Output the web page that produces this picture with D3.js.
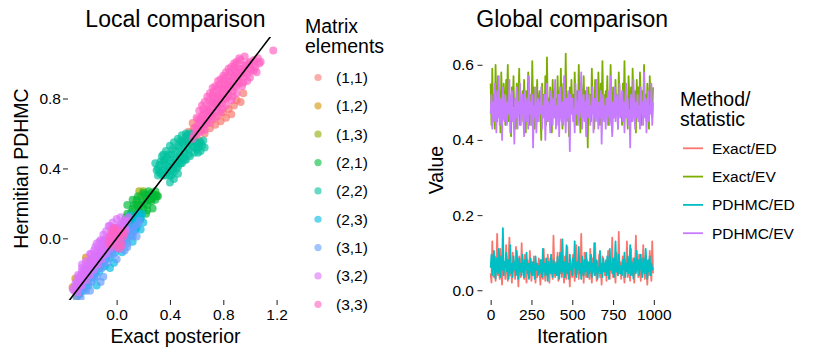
<!DOCTYPE html>
<html>
<head>
<meta charset="utf-8">
<script src="https://cdn.jsdelivr.net/npm/d3@7"></script>
<style>
  body { margin: 0; background: #fff; }
  text { font-family: "Liberation Sans", Arial, Helvetica, sans-serif; fill: #000; }
</style>
</head>
<body>
<svg id="chart" width="830" height="356"></svg>
<script>
// ---- data: local comparison (exact posterior vs hermitian PDHMC) ----
const elementLabels = ["(1,1)", "(1,2)", "(1,3)", "(2,1)", "(2,2)", "(2,3)", "(3,1)", "(3,2)", "(3,3)"];
const elementColors = ["#F8766D", "#D39200", "#93AA00", "#00BA38", "#00C19F", "#00B9E3", "#619CFF", "#DB72FB", "#FF61C3"];

const el11 = [[0.50,0.55],[0.52,0.58],[0.54,0.61],[0.56,0.57],[0.58,0.63],[0.60,0.59],[0.62,0.56],[0.64,0.62],[0.66,0.60],[0.68,0.66],[0.70,0.63],[0.72,0.68],[0.74,0.65],[0.76,0.70],[0.78,0.67],[0.80,0.72],[0.82,0.69],[0.84,0.74],[0.86,0.71],[0.88,0.76],[0.90,0.79],[0.93,0.78],[0.95,0.83],[0.57,0.66],[0.63,0.68],[0.69,0.73],[0.75,0.77],[0.81,0.80]];
const el12 = [[-0.31,-0.30],[-0.33,-0.28],[-0.28,-0.32],[-0.25,-0.22],[-0.20,-0.15],[-0.15,-0.12],[-0.10,-0.06],[-0.05,-0.02],[0.00,0.03],[0.05,0.06],[-0.22,-0.25],[-0.12,-0.16],[-0.31,-0.23],[-0.23,-0.11]];
const el13 = [[0.20,0.27],[0.23,0.25],[0.25,0.22],[0.18,0.24],[0.28,0.24],[0.16,0.20],[0.30,0.25],[-0.30,-0.33],[0.00,0.05],[0.17,0.27]];
const el21 = [[0.06,0.10],[0.08,0.14],[0.10,0.12],[0.12,0.17],[0.14,0.13],[0.15,0.19],[0.17,0.16],[0.19,0.21],[0.20,0.17],[0.22,0.23],[0.23,0.19],[0.25,0.24],[0.26,0.21],[0.28,0.25],[0.29,0.22],[0.30,0.24],[0.12,0.22],[0.16,0.24],[0.20,0.26],[0.24,0.27],[0.10,0.07],[0.18,0.11],[0.27,0.17],[0.08,0.19],[0.22,0.14],[0.14,0.08],
  [0.07,0.12],[0.09,0.10],[0.11,0.15],[0.13,0.11],[0.13,0.19],[0.16,0.15],[0.18,0.19],[0.18,0.14],[0.21,0.20],[0.21,0.25],[0.24,0.22],[0.26,0.26],[0.27,0.23],[0.29,0.27],[0.31,0.24],[0.15,0.22],[0.23,0.16],[0.11,0.09]];
const el22 = [[0.30,0.39],[0.32,0.42],[0.33,0.37],[0.35,0.44],[0.36,0.40],[0.38,0.46],[0.39,0.41],[0.40,0.36],[0.41,0.48],[0.42,0.43],[0.43,0.38],[0.44,0.50],[0.45,0.45],[0.46,0.41],[0.47,0.52],[0.48,0.47],[0.49,0.43],[0.50,0.54],[0.51,0.49],[0.52,0.45],[0.53,0.56],[0.54,0.51],[0.55,0.47],[0.56,0.58],[0.57,0.53],[0.58,0.49],[0.59,0.55],[0.60,0.51],[0.62,0.54],[0.63,0.50],[0.64,0.53],[0.55,0.60],[0.34,0.47],[0.37,0.50],[0.40,0.53],[0.43,0.55],[0.46,0.57],[0.49,0.59],[0.52,0.60],[0.37,0.36],[0.41,0.39],[0.44,0.42],[0.47,0.44],[0.50,0.46],[0.29,0.43],[0.31,0.36],
  [0.31,0.40],[0.33,0.44],[0.34,0.39],[0.36,0.45],[0.37,0.42],[0.38,0.38],[0.39,0.48],[0.40,0.44],[0.42,0.40],[0.42,0.51],[0.44,0.46],[0.45,0.40],[0.46,0.53],[0.47,0.48],[0.48,0.43],[0.49,0.55],[0.50,0.50],[0.51,0.45],[0.52,0.57],[0.53,0.52],[0.54,0.48],[0.55,0.55],[0.57,0.57],[0.58,0.52],[0.60,0.55],[0.61,0.52],[0.63,0.55],[0.41,0.36],[0.35,0.48],[0.32,0.38],
  [0.40,0.32],[0.43,0.34],[0.46,0.37],[0.66,0.52],[0.65,0.56],[0.53,0.59],[0.48,0.56],[0.58,0.60],[0.35,0.36],[0.61,0.49]];
const el23 = [[-0.28,-0.32],[-0.24,-0.28],[-0.20,-0.22],[-0.16,-0.20],[-0.12,-0.14],[-0.08,-0.12],[-0.04,-0.06],[0.00,-0.04],[0.04,0.00],[0.08,0.04],[0.12,0.08],[0.15,0.11],[0.18,0.12],[0.10,0.13],[0.06,0.09],[0.14,0.05],[0.02,0.06],[-0.02,0.00],[-0.06,-0.02],[-0.10,-0.08],[-0.14,-0.10],[-0.18,-0.16],[-0.22,-0.18],[-0.26,-0.24],[-0.30,-0.27],
  [-0.25,-0.30],[-0.21,-0.27],[-0.17,-0.23],[-0.13,-0.19],[-0.09,-0.16],[-0.05,-0.11],[-0.01,-0.08],[0.03,-0.04],[0.07,-0.01],[0.11,0.02],[0.15,0.06],[0.19,0.14],[0.16,0.14],[0.13,0.10],[0.09,0.07],
  [-0.15,-0.27],[-0.05,-0.17],[0.04,-0.08],[0.12,-0.02],[0.18,0.05],[0.20,0.09],[-0.02,-0.14]];
const el31 = [[-0.27,-0.34],[-0.23,-0.30],[-0.19,-0.25],[-0.15,-0.22],[-0.11,-0.17],[-0.07,-0.14],[-0.03,-0.09],[0.01,-0.06],[0.05,-0.02],[0.09,0.01],[0.13,0.04],[0.16,0.08],[0.11,0.06],[0.03,-0.01],[-0.05,-0.07],[-0.13,-0.13],[-0.21,-0.21],[-0.29,-0.30],[-0.17,-0.18],[-0.09,-0.10],[0.07,0.03],[0.17,0.10],
  [-0.26,-0.29],[-0.22,-0.26],[-0.18,-0.22],[-0.14,-0.17],[-0.10,-0.14],[-0.06,-0.10],[-0.02,-0.06],[0.02,-0.03],[0.06,0.01],[0.10,0.04],[0.14,0.07],[-0.30,-0.34],[0.12,0.01],[0.08,-0.03],
  [-0.20,-0.30],[-0.10,-0.22],[0.00,-0.12],[0.08,-0.05],[0.15,0.01],[-0.12,-0.25],[0.06,-0.07]];
const el32 = [[-0.32,-0.30],[-0.30,-0.24],[-0.29,-0.31],[-0.27,-0.21],[-0.26,-0.27],[-0.24,-0.18],[-0.23,-0.24],[-0.21,-0.15],[-0.20,-0.21],[-0.18,-0.12],[-0.17,-0.18],[-0.15,-0.09],[-0.14,-0.15],[-0.12,-0.06],[-0.11,-0.12],[-0.09,-0.03],[-0.08,-0.09],[-0.06,0.00],[-0.05,-0.06],[-0.03,0.03],[-0.02,-0.03],[0.00,0.06],[0.01,0.00],[0.03,0.08],[0.04,0.03],[0.06,0.10],[0.07,0.05],[0.09,0.12],[-0.25,-0.23],[-0.19,-0.16],[-0.13,-0.10],[-0.07,-0.04],[-0.01,0.02],[0.05,0.07],[-0.28,-0.27],[-0.22,-0.20],[-0.16,-0.13],[-0.10,-0.07],[-0.04,-0.01],[0.02,0.04],[-0.31,-0.26],[-0.26,-0.19],[-0.20,-0.13],[-0.14,-0.06],[-0.08,0.00],[-0.20,-0.09],[-0.12,-0.01],[-0.05,0.07],[-0.26,-0.15],
  [-0.33,-0.29],[-0.31,-0.28],[-0.30,-0.29],[-0.29,-0.25],[-0.28,-0.22],[-0.27,-0.25],[-0.25,-0.20],[-0.24,-0.22],[-0.22,-0.17],[-0.21,-0.19],[-0.19,-0.13],[-0.18,-0.15],[-0.16,-0.11],[-0.15,-0.13],[-0.13,-0.07],[-0.12,-0.09],[-0.10,-0.05],[-0.09,-0.07],[-0.07,-0.01],[-0.06,-0.04],[-0.04,0.02],[-0.03,-0.01],[-0.01,0.05],[0.00,0.02],[0.02,0.07],[0.03,0.05],[0.05,0.09],[0.06,0.06],[0.08,0.10],[-0.23,-0.13],[-0.17,-0.07],[-0.11,-0.02],[-0.03,0.06],[-0.29,-0.21],
  [-0.26,-0.17],[-0.23,-0.15],[-0.19,-0.09],[-0.16,-0.05],[-0.13,-0.02],[-0.10,0.02],[-0.08,0.04],[-0.06,0.07],[-0.03,0.09],[0.00,0.11],[0.03,0.12],[-0.17,-0.10],[-0.09,-0.01],[-0.15,-0.03]];
const el33 = [[-0.05,-0.04],[0.00,0.00],[0.04,0.04],[-0.04,0.04],[0.04,-0.04],[0.00,0.05],[0.00,-0.05],[-0.05,0.01],[0.05,0.01],
  [-0.03,-0.02],[0.02,0.02],[-0.02,0.03],[0.03,-0.02],[-0.06,-0.02],[0.06,0.03],[0.02,-0.06],[-0.02,0.06],
  [0.57,0.57],[0.59,0.63],[0.60,0.60],[0.62,0.66],[0.63,0.61],[0.64,0.70],[0.66,0.65],[0.67,0.72],[0.68,0.68],[0.70,0.75],[0.71,0.70],[0.72,0.78],[0.74,0.73],[0.75,0.80],[0.76,0.75],[0.78,0.83],[0.79,0.77],[0.80,0.86],[0.82,0.80],[0.83,0.88],[0.84,0.82],[0.86,0.90],[0.87,0.84],[0.88,0.93],[0.90,0.87],[0.91,0.95],[0.92,0.89],[0.94,0.97],[0.95,0.92],[0.97,0.99],[0.98,0.94],[1.00,1.01],[1.01,0.96],[1.03,1.02],[1.04,0.98],[1.06,1.03],[1.07,1.00],[1.05,0.95],[1.08,1.01],[1.175,1.075],
  [0.61,0.68],[0.65,0.74],[0.69,0.79],[0.73,0.84],[0.77,0.88],[0.81,0.92],[0.85,0.95],[0.89,0.99],[0.93,1.02],[0.70,0.66],[0.78,0.72],[0.86,0.79],[0.94,0.87],[1.00,0.92],[0.74,0.69],[0.82,0.76],[0.90,0.83],[0.98,0.90],
  [0.58,0.59],[0.60,0.64],[0.61,0.62],[0.63,0.68],[0.64,0.64],[0.65,0.71],[0.67,0.67],[0.68,0.74],[0.69,0.70],[0.71,0.77],[0.72,0.72],[0.73,0.80],[0.75,0.76],[0.76,0.82],[0.77,0.78],[0.79,0.85],[0.80,0.80],[0.81,0.88],[0.83,0.83],[0.84,0.90],[0.85,0.86],[0.87,0.92],[0.88,0.87],[0.89,0.95],[0.91,0.90],[0.92,0.97],[0.93,0.93],[0.95,0.99],[0.96,0.95],[0.99,1.00],[1.00,0.97],[1.02,1.00],[0.72,0.82],[0.76,0.86],[0.80,0.90],[0.84,0.93],[0.88,0.97],[0.79,0.74],[0.87,0.81],[0.95,0.89],[1.03,0.96],[0.66,0.62],
  [0.62,0.73],[0.66,0.78],[0.70,0.83],[0.74,0.87],[0.78,0.91],[0.82,0.95],[0.86,0.98],[0.90,1.01],[0.64,0.76],[0.68,0.81],[0.72,0.86],[0.76,0.90],[0.80,0.93],[0.84,0.97],[0.88,1.00],[0.92,1.03],[0.96,1.04],[0.60,0.69],
  [0.70,0.72],[0.74,0.77],[0.78,0.81],[0.82,0.85],[0.86,0.88],[0.90,0.92],[0.94,0.95]];
const elementPoints = [el11, el12, el13, el21, el22, el23, el31, el32, el33];

// ---- data: global comparison (traces over iterations) ----
const seriesNames = ["Exact/ED", "Exact/EV", "PDHMC/ED", "PDHMC/EV"];
const seriesColors = ["#F8766D", "#7CAE00", "#00BFC4", "#C77CFF"];
const iterations = d3.range(0, 1000, 5);

const exactEV = [
  .55,.44,.59,.47,.52,.43,.60,.50,.45,.57,.48,.53,.42,.58,.49,.46,.55,.51,.44,.56,
  .50,.60,.45,.52,.47,.41,.54,.49,.57,.46,.51,.43,.55,.48,.52,.59,.44,.50,.47,.53,
  .45,.56,.49,.42,.53,.47,.58,.50,.44,.52,.46,.61,.48,.54,.43,.51,.49,.56,.45,.50,
  .53,.47,.40,.55,.49,.52,.46,.57,.44,.62,.48,.51,.45,.54,.50,.42,.56,.48,.53,.46,
  .51,.44,.57,.49,.53,.46,.59,.48,.43,.55,.50,.47,.63,.45,.52,.49,.41,.54,.47,.56,
  .48,.52,.45,.58,.50,.44,.53,.47,.60,.49,.42,.55,.51,.46,.57,.48,.53,.44,.50,.38,
  .54,.47,.52,.45,.59,.49,.51,.43,.56,.48,.53,.46,.58,.50,.44,.55,.49,.61,.47,.52,
  .45,.53,.48,.57,.44,.51,.47,.60,.49,.42,.54,.50,.46,.56,.48,.52,.43,.58,.51,.47,
  .50,.44,.55,.48,.61,.46,.52,.49,.43,.57,.51,.47,.54,.45,.59,.50,.48,.53,.42,.56,
  .49,.54,.46,.58,.51,.44,.53,.48,.60,.47,.52,.45,.55,.50,.43,.57,.49,.52,.46,.54];
const pdhmcEV = [
  .47,.52,.43,.50,.45,.55,.48,.42,.53,.46,.57,.44,.49,.51,.40,.54,.47,.45,.52,.48,
  .44,.50,.47,.56,.42,.49,.53,.45,.48,.39,.51,.46,.54,.43,.50,.47,.55,.44,.49,.52,
  .46,.41,.53,.48,.45,.51,.43,.57,.47,.50,.44,.52,.38,.49,.46,.54,.42,.48,.51,.45,
  .50,.47,.54,.43,.49,.46,.52,.40,.48,.55,.45,.50,.47,.42,.53,.49,.44,.51,.46,.56,
  .43,.49,.46,.52,.41,.54,.47,.45,.50,.44,.57,.48,.42,.51,.46,.53,.49,.37,.52,.47,
  .51,.45,.48,.42,.55,.47,.50,.44,.53,.46,.49,.58,.43,.48,.52,.45,.50,.41,.54,.47,
  .46,.52,.44,.49,.47,.54,.42,.51,.48,.45,.56,.47,.43,.50,.46,.53,.39,.49,.52,.45,
  .49,.43,.51,.46,.53,.48,.44,.57,.47,.41,.50,.46,.54,.45,.49,.52,.43,.48,.55,.46,
  .47,.53,.45,.50,.42,.49,.55,.46,.51,.44,.48,.38,.52,.47,.45,.56,.48,.43,.50,.46,
  .52,.45,.49,.43,.54,.47,.50,.44,.58,.46,.51,.42,.48,.53,.45,.49,.47,.55,.44,.50];
const exactED = [
  .045,.020,.130,.060,.035,.090,.025,.070,.150,.040,.080,.030,.110,.055,.015,.095,.050,.070,.030,.120,
  .060,.025,.085,.140,.040,.065,.020,.100,.050,.075,.030,.115,.045,.060,.010,.090,.055,.035,.125,.050,
  .070,.030,.095,.045,.020,.080,.055,.035,.105,.060,.025,.075,.040,.090,.050,.020,.070,.035,.060,.085,
  .045,.015,.080,.055,.030,.110,.050,.025,.070,.040,.095,.060,.020,.085,.045,.065,.030,.145,.055,.035,
  .075,.040,.100,.025,.060,.045,.135,.035,.070,.050,.020,.090,.055,.030,.115,.045,.065,.010,.080,.050,
  .035,.095,.055,.025,.075,.120,.045,.060,.030,.085,.050,.150,.040,.070,.020,.100,.055,.035,.080,.045,
  .065,.030,.110,.050,.020,.085,.060,.040,.125,.055,.025,.075,.045,.095,.035,.060,.015,.090,.050,.070,
  .040,.080,.025,.065,.105,.045,.030,.090,.055,.140,.035,.070,.050,.020,.100,.060,.040,.155,.045,.075,
  .030,.065,.090,.045,.020,.080,.055,.130,.035,.070,.050,.025,.110,.060,.040,.085,.020,.065,.145,.050,
  .070,.035,.095,.055,.025,.080,.045,.120,.060,.030,.090,.050,.015,.075,.040,.105,.055,.025,.130,.045];
const pdhmcED = [
  .060,.095,.040,.070,.105,.050,.030,.085,.060,.045,.110,.070,.035,.090,.055,.165,.040,.075,.060,.100,
  .050,.080,.030,.065,.120,.045,.070,.035,.090,.055,.075,.040,.105,.060,.030,.085,.050,.070,.040,.095,
  .065,.035,.080,.055,.100,.045,.070,.030,.060,.085,.050,.040,.075,.060,.030,.090,.055,.070,.040,.065,
  .045,.080,.060,.035,.110,.050,.070,.040,.085,.055,.025,.075,.060,.045,.095,.050,.035,.080,.065,.045,
  .070,.040,.090,.055,.030,.100,.065,.045,.135,.050,.075,.035,.060,.120,.045,.070,.030,.095,.055,.065,
  .040,.085,.060,.130,.050,.035,.075,.055,.115,.045,.070,.030,.090,.060,.040,.080,.050,.100,.065,.035,
  .075,.045,.060,.095,.035,.070,.050,.125,.040,.065,.080,.030,.060,.050,.105,.045,.070,.035,.085,.055,
  .050,.075,.040,.090,.060,.030,.110,.055,.070,.045,.085,.035,.065,.130,.050,.075,.040,.095,.060,.045,
  .065,.040,.080,.055,.100,.035,.070,.050,.090,.045,.060,.120,.040,.075,.055,.030,.085,.065,.045,.105,
  .055,.080,.040,.070,.095,.050,.035,.085,.060,.045,.110,.065,.030,.080,.050,.090,.040,.070,.055,.060];
const seriesValues = [exactED, exactEV, pdhmcED, pdhmcEV];

// ---- layout ----
const svg = d3.select("#chart");
const left = { x0: 68, x1: 283, y0: 37, y1: 300 };
const right = { x0: 482.5, x1: 662, y0: 40, y1: 300 };
const tickFont = "15.5px", titleFont = "19.5px";

function styleAxis(g) {
  g.select(".domain").remove();
  g.selectAll(".tick line").attr("stroke", "#333").attr("stroke-width", 1.1);
  g.selectAll(".tick text").style("font-size", tickFont).attr("fill", "#111");
}

// ---------------- left panel ----------------
const xL = d3.scaleLinear().domain([-0.365, 1.248]).range([left.x0, left.x1]);
const yL = d3.scaleLinear().domain([-0.353, 1.152]).range([left.y1, left.y0]);

svg.append("clipPath").attr("id", "clip-left")
  .append("rect")
  .attr("x", left.x0).attr("y", left.y0)
  .attr("width", left.x1 - left.x0).attr("height", left.y1 - left.y0);

const gPts = svg.append("g").attr("clip-path", "url(#clip-left)");
elementPoints.forEach((pts, i) => {
  gPts.append("g")
    .selectAll("circle")
    .data(pts)
    .enter()
    .append("circle")
    .attr("cx", d => xL(d[0]))
    .attr("cy", d => yL(d[1]))
    .attr("r", 4)
    .attr("fill", elementColors[i])
    .attr("fill-opacity", 0.68);
});

// identity line
gPts.append("line")
  .attr("x1", xL(-0.5)).attr("y1", yL(-0.5))
  .attr("x2", xL(1.4)).attr("y2", yL(1.4))
  .attr("stroke", "#000").attr("stroke-width", 1.6);

svg.append("g")
  .attr("transform", `translate(0,${left.y1})`)
  .call(d3.axisBottom(xL).tickValues([0, 0.4, 0.8, 1.2]).tickFormat(d3.format(".1f")).tickSize(5).tickPadding(4))
  .call(styleAxis);

svg.append("g")
  .attr("transform", `translate(${left.x0},0)`)
  .call(d3.axisLeft(yL).tickValues([0, 0.4, 0.8]).tickFormat(d3.format(".1f")).tickSize(5).tickPadding(2))
  .call(styleAxis);

svg.append("text")
  .attr("x", (left.x0 + left.x1) / 2).attr("y", 27)
  .attr("text-anchor", "middle").style("font-size", "23px")
  .text("Local comparison");
svg.append("text")
  .attr("x", (left.x0 + left.x1) / 2).attr("y", 343)
  .attr("text-anchor", "middle").style("font-size", titleFont)
  .text("Exact posterior");
svg.append("text")
  .attr("transform", `translate(28,${(left.y0 + left.y1) / 2}) rotate(-90)`)
  .attr("text-anchor", "middle").style("font-size", titleFont)
  .text("Hermitian PDHMC");

// legend: matrix elements
const legL = svg.append("g");
legL.append("text").attr("x", 305).attr("y", 33).style("font-size", titleFont).text("Matrix");
legL.append("text").attr("x", 305).attr("y", 53).style("font-size", titleFont).text("elements");
elementLabels.forEach((lab, i) => {
  const cy = 77.5 + i * 28.35;
  legL.append("circle").attr("cx", 318).attr("cy", cy).attr("r", 3.6)
    .attr("fill", elementColors[i]).attr("fill-opacity", 0.6);
  legL.append("text").attr("x", 336).attr("y", cy).attr("dy", "0.35em")
    .style("font-size", tickFont).text(lab);
});

// ---------------- right panel ----------------
const xR = d3.scaleLinear().domain([-50, 1049.95]).range([right.x0, right.x1]);
const yR = d3.scaleLinear().domain([-0.026, 0.666]).range([right.y1, right.y0]);

const line = d3.line()
  .x((d, i) => xR(iterations[i]))
  .y(d => yR(d));

seriesValues.forEach((vals, i) => {
  svg.append("path")
    .datum(vals)
    .attr("d", line)
    .attr("fill", "none")
    .attr("stroke", seriesColors[i])
    .attr("stroke-width", 1.8)
    .attr("stroke-linejoin", "round");
});

svg.append("g")
  .attr("transform", `translate(0,${right.y1})`)
  .call(d3.axisBottom(xR).tickValues([0, 250, 500, 750, 1000]).tickFormat(d3.format("d")).tickSize(5).tickPadding(4))
  .call(styleAxis);

svg.append("g")
  .attr("transform", `translate(${right.x0},0)`)
  .call(d3.axisLeft(yR).tickValues([0, 0.2, 0.4, 0.6]).tickFormat(d3.format(".1f")).tickSize(5).tickPadding(3.5))
  .call(styleAxis);

svg.append("text")
  .attr("x", (right.x0 + right.x1) / 2).attr("y", 27)
  .attr("text-anchor", "middle").style("font-size", "23px")
  .text("Global comparison");
svg.append("text")
  .attr("x", (right.x0 + right.x1) / 2).attr("y", 343)
  .attr("text-anchor", "middle").style("font-size", titleFont)
  .text("Iteration");
svg.append("text")
  .attr("transform", `translate(443,${(right.y0 + right.y1) / 2}) rotate(-90)`)
  .attr("text-anchor", "middle").style("font-size", titleFont)
  .text("Value");

// legend: method/statistic
const legR = svg.append("g");
legR.append("text").attr("x", 680).attr("y", 106).style("font-size", titleFont).text("Method/");
legR.append("text").attr("x", 680).attr("y", 126).style("font-size", titleFont).text("statistic");
seriesNames.forEach((name, i) => {
  const cy = 148.3 + i * 28.3;
  legR.append("line").attr("x1", 683).attr("x2", 703).attr("y1", cy).attr("y2", cy)
    .attr("stroke", seriesColors[i]).attr("stroke-width", 1.8);
  legR.append("text").attr("x", 712).attr("y", cy).attr("dy", "0.35em")
    .style("font-size", tickFont).text(name);
});
</script>
</body>
</html>
